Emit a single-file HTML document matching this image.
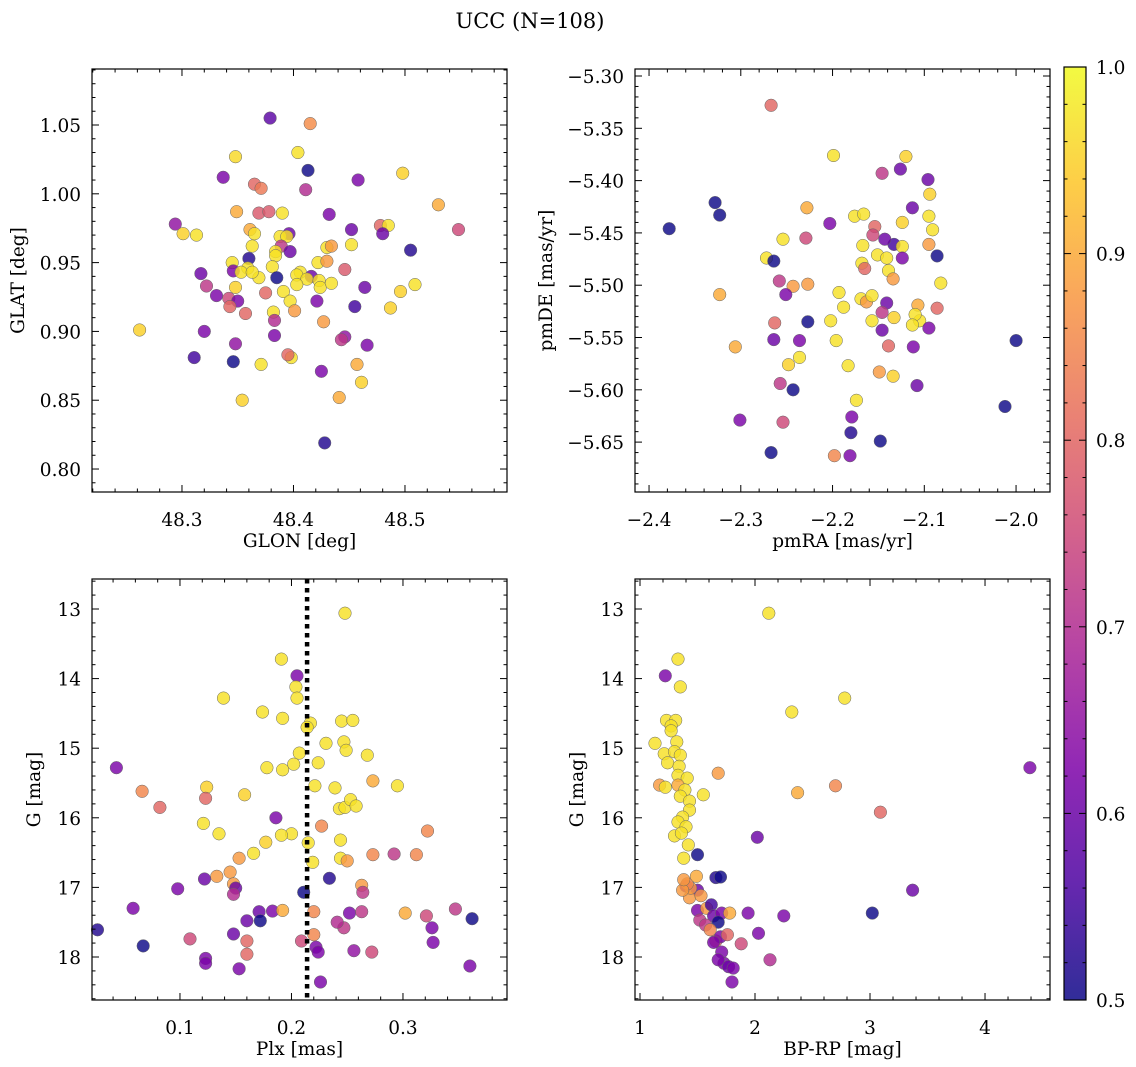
<!DOCTYPE html>
<html><head><meta charset="utf-8"><style>
body{margin:0;background:#fff;}
svg{display:block;font-family:"DejaVu Serif","Liberation Serif",serif;}
</style></head><body>
<svg id="fig" width="1136" height="1067" viewBox="0 0 1136 1067">
<defs><linearGradient id="plasma" x1="0" y1="1" x2="0" y2="0">
<stop offset="0" stop-color="#0d0887"/><stop offset="0.125" stop-color="#4c02a1"/><stop offset="0.25" stop-color="#7e03a8"/><stop offset="0.375" stop-color="#a92395"/><stop offset="0.5" stop-color="#cc4778"/><stop offset="0.625" stop-color="#e66c5c"/><stop offset="0.75" stop-color="#f89540"/><stop offset="0.875" stop-color="#fdc527"/><stop offset="1" stop-color="#f0f921"/></linearGradient></defs>
<text x="530" y="28" text-anchor="middle" font-size="21">UCC (N=108)</text>
</svg>
<script>
// Panel 1: GLON / GLAT / probability
const glon=[48.379,48.415,48.348,48.404,48.413,48.337,48.458,48.498,48.365,48.371,48.411,48.530,48.349,48.369,48.378,48.390,48.432,48.294,48.301,48.313,48.361,48.365,48.396,48.478,48.485,48.480,48.452,48.548,48.388,48.394,48.363,48.389,48.384,48.430,48.434,48.452,48.505,48.384,48.360,48.397,48.345,48.359,48.317,48.346,48.381,48.406,48.416,48.369,48.385,48.422,48.430,48.403,48.412,48.423,48.424,48.434,48.446,48.353,48.363,48.322,48.331,48.348,48.342,48.350,48.403,48.391,48.375,48.397,48.382,48.343,48.357,48.401,48.421,48.464,48.427,48.455,48.383,48.496,48.509,48.487,48.446,48.320,48.311,48.348,48.383,48.443,48.398,48.395,48.346,48.466,48.371,48.425,48.457,48.461,48.354,48.441,48.428,48.262];
const glat=[1.055,1.051,1.027,1.030,1.017,1.012,1.010,1.015,1.007,1.004,1.003,0.992,0.987,0.986,0.987,0.986,0.985,0.978,0.971,0.970,0.974,0.971,0.971,0.977,0.977,0.971,0.974,0.974,0.969,0.969,0.962,0.962,0.958,0.961,0.962,0.963,0.959,0.955,0.953,0.958,0.950,0.946,0.942,0.944,0.947,0.943,0.940,0.939,0.939,0.950,0.951,0.941,0.938,0.937,0.932,0.935,0.945,0.943,0.943,0.933,0.926,0.932,0.924,0.922,0.934,0.929,0.928,0.922,0.914,0.918,0.913,0.915,0.922,0.932,0.907,0.918,0.908,0.929,0.934,0.917,0.896,0.900,0.881,0.891,0.897,0.894,0.881,0.883,0.878,0.890,0.876,0.871,0.876,0.863,0.850,0.852,0.819,0.901];
const prob1=[.58,.86,.96,.97,.5,.62,.62,.95,.8,.83,.7,.9,.9,.78,.78,.97,.62,.65,.95,.97,.9,.97,.6,.8,.97,.6,.6,.75,.97,.97,.97,.72,.97,.97,.88,.97,.52,.97,.52,.6,.97,.97,.6,.62,.97,.97,.6,.97,.5,.97,.88,.97,.97,.97,.97,.97,.78,.97,.97,.72,.62,.95,.75,.62,.97,.97,.8,.97,.97,.8,.8,.88,.62,.6,.88,.55,.7,.95,.97,.95,.65,.62,.55,.65,.62,.72,.97,.8,.5,.62,.97,.62,.9,.95,.95,.9,.52,.95];
// Panel 2: pmRA / pmDE
const pmra=[-2.267,-2.199,-2.120,-2.126,-2.146,-2.096,-2.094,-2.328,-2.228,-2.113,-2.323,-2.378,-2.095,-2.176,-2.166,-2.154,-2.203,-2.124,-2.091,-2.229,-2.254,-2.133,-2.124,-2.156,-2.143,-2.167,-2.095,-2.272,-2.264,-2.168,-2.151,-2.141,-2.124,-2.086,-2.082,-2.165,-2.139,-2.258,-2.243,-2.227,-2.134,-2.323,-2.251,-2.193,-2.169,-2.141,-2.163,-2.188,-2.157,-2.107,-2.105,-2.086,-2.146,-2.133,-2.110,-2.095,-2.263,-2.227,-2.202,-2.157,-2.146,-2.113,-2.264,-2.236,-2.196,-2.139,-2.112,-2.306,-2.248,-2.236,-2.183,-2.134,-2.149,-2.108,-2.257,-2.243,-2.174,-2.179,-2.180,-2.301,-2.254,-2.148,-2.267,-2.198,-2.181,-2.012,-2.000];
const pmde=[-5.328,-5.376,-5.377,-5.389,-5.393,-5.399,-5.413,-5.421,-5.426,-5.426,-5.433,-5.446,-5.434,-5.434,-5.432,-5.444,-5.441,-5.440,-5.447,-5.455,-5.456,-5.461,-5.463,-5.452,-5.456,-5.462,-5.461,-5.474,-5.477,-5.479,-5.471,-5.474,-5.474,-5.472,-5.498,-5.484,-5.486,-5.496,-5.501,-5.499,-5.494,-5.509,-5.509,-5.507,-5.513,-5.517,-5.516,-5.521,-5.510,-5.519,-5.534,-5.522,-5.526,-5.531,-5.528,-5.541,-5.536,-5.535,-5.534,-5.534,-5.543,-5.538,-5.552,-5.553,-5.553,-5.558,-5.559,-5.559,-5.576,-5.569,-5.577,-5.587,-5.583,-5.596,-5.594,-5.600,-5.610,-5.626,-5.641,-5.629,-5.631,-5.649,-5.660,-5.663,-5.663,-5.616,-5.553];
const prob2=[.8,.97,.95,.6,.72,.6,.95,.5,.9,.6,.5,.5,.97,.97,.97,.8,.62,.95,.97,.75,.97,.55,.97,.75,.6,.97,.88,.97,.5,.97,.97,.97,.62,.5,.97,.8,.97,.72,.88,.88,.88,.9,.62,.97,.97,.6,.88,.97,.97,.9,.97,.8,.72,.95,.97,.62,.8,.5,.97,.97,.6,.97,.6,.62,.97,.8,.62,.9,.95,.97,.97,.95,.88,.6,.72,.5,.97,.62,.52,.62,.75,.5,.5,.85,.62,.5,.5];
// Panel 3: Plx / G
const plx=[.248,.191,.205,.204,.205,.139,.174,.192,.245,.255,.217,.214,.231,.247,.249,.207,.268,.202,.224,.178,.192,.043,.273,.066,.239,.124,.221,.295,.082,.123,.158,.243,.248,.253,.186,.258,.121,.200,.227,.322,.135,.244,.191,.177,.166,.215,.219,.244,.250,.153,.273,.312,.292,.145,.133,.122,.148,.234,.263,.098,.150,.211,.264,.148,.183,.192,.220,.171,.252,.263,.321,.302,.160,.172,.148,.220,.247,.347,.241,.326,.058,.109,.160,.209,.222,.123,.160,.256,.272,.327,.123,.153,.226,.026,.067,.360,.362,.224];
const gmag3=[13.06,13.72,13.96,14.12,14.28,14.28,14.48,14.57,14.61,14.60,14.64,14.70,14.93,14.91,15.03,15.07,15.10,15.23,15.21,15.28,15.31,15.28,15.47,15.62,15.57,15.56,15.54,15.54,15.85,15.72,15.67,15.87,15.85,15.74,16.00,15.83,16.08,16.23,16.12,16.19,16.23,16.32,16.25,16.35,16.51,16.36,16.64,16.58,16.62,16.58,16.53,16.53,16.52,16.78,16.84,16.88,16.95,16.87,16.97,17.02,17.01,17.07,17.07,17.10,17.34,17.33,17.35,17.35,17.37,17.35,17.41,17.37,17.48,17.48,17.67,17.68,17.58,17.31,17.50,17.58,17.30,17.74,17.77,17.77,17.86,18.02,17.96,17.91,17.93,17.79,18.09,18.17,18.36,17.61,17.84,18.13,17.45,17.93];
const prob3=[.97,.97,.62,.97,.97,.97,.97,.97,.97,.97,.97,.97,.97,.97,.97,.97,.97,.97,.97,.97,.97,.62,.9,.85,.97,.95,.97,.97,.8,.8,.95,.97,.97,.97,.62,.97,.97,.97,.85,.85,.97,.97,.97,.95,.97,.97,.97,.97,.88,.88,.85,.85,.72,.88,.88,.6,.88,.52,.88,.62,.6,.5,.72,.7,.62,.9,.85,.6,.62,.72,.75,.9,.6,.5,.6,.85,.72,.72,.7,.62,.62,.75,.8,.75,.62,.62,.8,.65,.75,.62,.62,.62,.62,.52,.5,.62,.5,.62];
const plxLine=0.214;
// Panel 4: BP-RP / G
const bprp=[2.12,1.33,1.22,1.35,2.78,2.32,1.23,1.31,1.27,1.27,4.39,1.13,1.32,1.21,1.30,1.35,1.24,1.34,1.33,1.41,1.68,1.17,1.22,1.33,1.39,1.35,1.43,1.55,1.43,1.37,1.33,1.40,1.30,1.36,1.42,1.38,2.37,2.70,3.09,2.02,1.50,1.66,1.70,1.40,1.50,1.43,1.53,1.44,1.41,1.37,1.49,1.38,1.50,1.58,1.62,1.64,1.71,1.68,1.78,1.94,2.25,3.37,3.02,1.52,1.57,1.61,1.66,1.70,1.76,1.64,1.88,2.03,1.71,1.73,1.77,1.81,1.68,1.80,2.13];
const gmag4=[13.06,13.72,13.96,14.12,14.28,14.48,14.60,14.60,14.68,14.75,15.28,14.93,14.91,15.08,15.05,15.10,15.21,15.26,15.39,15.43,15.36,15.53,15.56,15.53,15.60,15.69,15.76,15.67,15.89,15.99,16.06,16.13,16.26,16.22,16.39,16.58,15.64,15.54,15.92,16.28,16.53,16.86,16.85,16.98,17.04,17.15,17.12,17.01,16.95,17.04,16.84,16.89,17.33,17.30,17.25,17.41,17.37,17.50,17.37,17.37,17.41,17.04,17.37,17.47,17.54,17.61,17.77,17.71,17.68,17.79,17.81,17.66,17.93,18.09,18.14,18.16,18.04,18.36,18.04];
const prob4=[.97,.97,.62,.97,.97,.97,.97,.97,.97,.97,.62,.97,.97,.97,.97,.97,.97,.97,.97,.97,.88,.88,.97,.9,.97,.97,.97,.97,.97,.97,.97,.97,.97,.97,.97,.97,.9,.85,.8,.6,.5,.52,.5,.62,.6,.88,.88,.88,.85,.88,.9,.88,.62,.88,.55,.6,.62,.5,.9,.62,.62,.6,.5,.72,.72,.85,.8,.62,.8,.62,.75,.62,.62,.62,.6,.62,.62,.62,.7];
const cbTicks=[0.5,0.6,0.7,0.8,0.9,1.0];

const NS='http://www.w3.org/2000/svg';
const svg=document.getElementById('fig');
function mk(tag,attrs,parent){const e=document.createElementNS(NS,tag);for(const k in attrs)e.setAttribute(k,attrs[k]);(parent||svg).appendChild(e);return e;}
const stops=[[0,[13,8,135]],[.125,[76,2,161]],[.25,[126,3,168]],[.375,[169,35,149]],[.5,[204,71,120]],[.625,[230,108,92]],[.75,[248,149,64]],[.875,[253,197,39]],[1,[240,249,33]]];
function plasma(v){let t=Math.max(0,Math.min(1,(v-0.5)/0.5));for(let i=1;i<stops.length;i++){if(t<=stops[i][0]){const a=stops[i-1],b=stops[i],f=(t-a[0])/(b[0]-a[0]);const c=a[1].map((x,j)=>Math.round(x+(b[1][j]-x)*f));return `rgb(${c})`;}}return 'rgb(240,249,33)';}
function fmt(v,d){return (v<0?'\u2212':'')+Math.abs(v).toFixed(d);}
const TF=18.5, LF=18.5;
function panel(o){
  const g=mk('g',{});
  
  
  const sx=v=>o.x0+(v-o.xmin)/(o.xmax-o.xmin)*(o.x1-o.x0);
  const sy=o.yinv?(v=>o.y0+(v-o.ymin)/(o.ymax-o.ymin)*(o.y1-o.y0)):(v=>o.y1-(v-o.ymin)/(o.ymax-o.ymin)*(o.y1-o.y0));
  const pts=mk('g',{},g);
  
  
  for(let i=0;i<o.xs.length;i++){
    const c=mk('circle',{cx:sx(o.xs[i]).toFixed(1),cy:sy(o.ys[i]).toFixed(1),r:6.3,fill:plasma(o.cs[i]),'fill-opacity':0.82,stroke:'#666','stroke-width':0.5},pts);
    
    
  }
  if(o.vline!==undefined){
    const l=mk('line',{x1:sx(o.vline),x2:sx(o.vline),y1:o.y0,y2:o.y1,stroke:'#000','stroke-width':4.5,'stroke-dasharray':'4.5,4.5'},g);
    
    
  }
  const f=mk('rect',{x:o.x0,y:o.y0,width:o.x1-o.x0,height:o.y1-o.y0,fill:'none',stroke:'#000','stroke-width':1.2},g);
  
  
  const eps=1e-9;
  for(let v=Math.ceil(o.xmin/o.xmin_step-eps)*o.xmin_step;v<=o.xmax+eps;v+=o.xmin_step){
    const X=sx(v);const maj=Math.abs(Math.round(v/o.xmaj)*o.xmaj-v)<o.xmin_step/10;const L=maj?7:3.5;
    mk('line',{x1:X,x2:X,y1:o.y1,y2:o.y1-L,stroke:'#000','stroke-width':1},g);
    mk('line',{x1:X,x2:X,y1:o.y0,y2:o.y0+L,stroke:'#000','stroke-width':1},g);
    if(maj){const t=mk('text',{x:X,y:o.y1+34,'text-anchor':'middle','font-size':TF},g);t.textContent=fmt(Math.round(v/o.xmaj)*o.xmaj,o.xd);
      }
  }
  for(let v=Math.ceil(o.ymin/o.ymin_step-eps)*o.ymin_step;v<=o.ymax+eps;v+=o.ymin_step){
    const Y=sy(v);const maj=Math.abs(Math.round(v/o.ymaj)*o.ymaj-v)<o.ymin_step/10;const L=maj?7:3.5;
    mk('line',{x1:o.x0,x2:o.x0+L,y1:Y,y2:Y,stroke:'#000','stroke-width':1},g);
    mk('line',{x1:o.x1,x2:o.x1-L,y1:Y,y2:Y,stroke:'#000','stroke-width':1},g);
    if(maj){const t=mk('text',{x:o.x0-11,y:Y+7,'text-anchor':'end','font-size':TF},g);t.textContent=fmt(Math.round(v/o.ymaj)*o.ymaj,o.yd);
      }
  }
  const xl=mk('text',{x:(o.x0+o.x1)/2,y:o.y1+55,'text-anchor':'middle','font-size':LF},g);xl.textContent=o.xlabel;
  
  const yx=o.x0-o.ylOff, yy=(o.y0+o.y1)/2;
  const yl=mk('text',{x:yx,y:yy,'text-anchor':'middle','font-size':LF,transform:`rotate(-90 ${yx} ${yy})`},g);yl.textContent=o.ylabel;
  
}
panel({name:'glon-glat-panel',x0:92,x1:507,y0:69,y1:492,xmin:48.2193,xmax:48.5915,ymin:0.7833,ymax:1.0907,xmaj:0.1,xmin_step:0.02,ymaj:0.05,ymin_step:0.01,xd:1,yd:2,xs:glon,ys:glat,cs:prob1,xlabel:'GLON [deg]',ylabel:'GLAT [deg]',ylOff:68});
panel({name:'pm-panel',x0:635,x1:1050,y0:69,y1:492,xmin:-2.4153,xmax:-1.963,ymin:-5.6977,ymax:-5.2933,xmaj:0.1,xmin_step:0.02,ymaj:0.05,ymin_step:0.01,xd:1,yd:2,xs:pmra,ys:pmde,cs:prob2,xlabel:'pmRA [mas/yr]',ylabel:'pmDE [mas/yr]',ylOff:83});
panel({name:'plx-g-panel',x0:92,x1:507,y0:579,y1:1000,xmin:0.0211,xmax:0.3933,ymin:12.569,ymax:18.618,yinv:true,xmaj:0.1,xmin_step:0.02,ymaj:1,ymin_step:0.2,xd:1,yd:0,xs:plx,ys:gmag3,cs:prob3,vline:plxLine,xlabel:'Plx [mas]',ylabel:'G [mag]',ylOff:52});
panel({name:'cmd-panel',x0:635,x1:1050,y0:579,y1:1000,xmin:0.9565,xmax:4.565,ymin:12.569,ymax:18.618,yinv:true,xmaj:1,xmin_step:0.2,ymaj:1,ymin_step:0.2,xd:0,yd:0,xs:bprp,ys:gmag4,cs:prob4,xlabel:'BP-RP [mag]',ylabel:'G [mag]',ylOff:52});
const cb=mk('g',{});


mk('rect',{x:1064,y:67,width:22,height:933,fill:'url(#plasma)','fill-opacity':0.85,stroke:'#000','stroke-width':1.2},cb);
const cy=v=>1000-(v-0.5)/0.5*933;
for(let v=0.5;v<=1.0001;v+=0.02){const Y=cy(v);const maj=Math.abs(Math.round(v*10)/10-v)<0.002;const L=maj?7:3.5;
  mk('line',{x1:1064,x2:1064+L,y1:Y,y2:Y,stroke:'#000'},cb);mk('line',{x1:1086,x2:1086-L,y1:Y,y2:Y,stroke:'#000'},cb);}
for(const v of cbTicks){const t=mk('text',{x:1096,y:cy(v)+7,'font-size':TF},cb);t.textContent=v.toFixed(1);
  }
</script>
</body></html>
